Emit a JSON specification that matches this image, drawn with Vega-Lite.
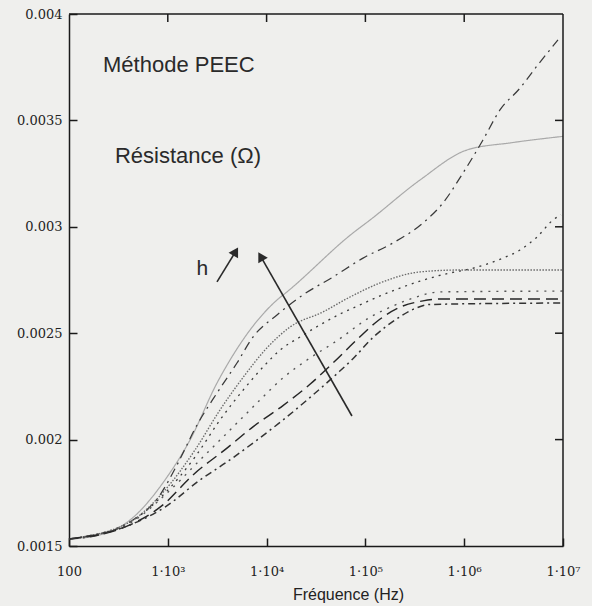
{
  "$schema": "https://vega.github.io/schema/vega-lite/v6.json",
  "width": 494,
  "height": 532,
  "autosize": "none",
  "padding": {"left": 69, "top": 14, "right": 29, "bottom": 60},
  "background": "#efefed",
  "config": {
    "view": {"stroke": null},
    "axis": {"grid": false, "domainColor": "#1a1a1a", "domainWidth": 1.5, "tickColor": "#1a1a1a", "tickWidth": 1.5, "labelColor": "#222", "titleColor": "#222"}
  },
  "datasets": {
    "curves": [
      {"f": 100, "r": 0.001533, "s": "A"}, {"f": 206, "r": 0.001552, "s": "A"}, {"f": 414, "r": 0.001622, "s": "A"}, {"f": 982, "r": 0.001824, "s": "A"}, {"f": 1679, "r": 0.001998, "s": "A"}, {"f": 3148, "r": 0.002266, "s": "A"}, {"f": 4266, "r": 0.002374, "s": "A"}, {"f": 6792, "r": 0.002515, "s": "A"}, {"f": 12735, "r": 0.002656, "s": "A"}, {"f": 16069, "r": 0.002694, "s": "A"}, {"f": 74817, "r": 0.002971, "s": "A"}, {"f": 111429, "r": 0.003032, "s": "A"}, {"f": 357273, "r": 0.00322, "s": "A"}, {"f": 1066596, "r": 0.003361, "s": "A"}, {"f": 3000000, "r": 0.003395, "s": "A"}, {"f": 10000000, "r": 0.003425, "s": "A"},

      {"f": 100, "r": 0.001533, "s": "B"}, {"f": 206, "r": 0.001552, "s": "B"}, {"f": 414, "r": 0.001613, "s": "B"}, {"f": 834, "r": 0.00174, "s": "B"}, {"f": 1239, "r": 0.001881, "s": "B"}, {"f": 1977, "r": 0.002069, "s": "B"}, {"f": 3148, "r": 0.002219, "s": "B"}, {"f": 5012, "r": 0.00236, "s": "B"}, {"f": 7278, "r": 0.002482, "s": "B"}, {"f": 12735, "r": 0.002586, "s": "B"}, {"f": 23335, "r": 0.00268, "s": "B"}, {"f": 46989, "r": 0.002764, "s": "B"}, {"f": 94624, "r": 0.002853, "s": "B"}, {"f": 190108, "r": 0.002924, "s": "B"}, {"f": 382825, "r": 0.003018, "s": "B"}, {"f": 609537, "r": 0.003112, "s": "B"}, {"f": 972747, "r": 0.003253, "s": "B"}, {"f": 1548817, "r": 0.003408, "s": "B"}, {"f": 2301442, "r": 0.003549, "s": "B"}, {"f": 3672823, "r": 0.003652, "s": "B"}, {"f": 5457578, "r": 0.003756, "s": "B"}, {"f": 8892000, "r": 0.003878, "s": "B"},

      {"f": 100, "r": 0.001533, "s": "C"}, {"f": 414, "r": 0.001613, "s": "C"}, {"f": 938, "r": 0.001749, "s": "C"}, {"f": 1884, "r": 0.001918, "s": "C"}, {"f": 3373, "r": 0.002092, "s": "C"}, {"f": 6039, "r": 0.002243, "s": "C"}, {"f": 9638, "r": 0.002351, "s": "C"}, {"f": 13677, "r": 0.002421, "s": "C"}, {"f": 21777, "r": 0.002482, "s": "C"}, {"f": 34674, "r": 0.002539, "s": "C"}, {"f": 55335, "r": 0.00259, "s": "C"}, {"f": 88105, "r": 0.002633, "s": "C"}, {"f": 140605, "r": 0.002675, "s": "C"}, {"f": 223872, "r": 0.002712, "s": "C"}, {"f": 357273, "r": 0.002745, "s": "C"}, {"f": 717794, "r": 0.002783, "s": "C"}, {"f": 1145513, "r": 0.002802, "s": "C"}, {"f": 1702159, "r": 0.002825, "s": "C"}, {"f": 2471710, "r": 0.002853, "s": "C"}, {"f": 3672823, "r": 0.002891, "s": "C"}, {"f": 5457578, "r": 0.002952, "s": "C"}, {"f": 7925000, "r": 0.003032, "s": "C"}, {"f": 9550000, "r": 0.003056, "s": "C"},

      {"f": 100, "r": 0.001533, "s": "D"}, {"f": 414, "r": 0.001613, "s": "D"}, {"f": 938, "r": 0.001763, "s": "D"}, {"f": 1884, "r": 0.001951, "s": "D"}, {"f": 3373, "r": 0.002139, "s": "D"}, {"f": 6039, "r": 0.002304, "s": "D"}, {"f": 9638, "r": 0.002421, "s": "D"}, {"f": 17258, "r": 0.002529, "s": "D"}, {"f": 37239, "r": 0.0026, "s": "D"}, {"f": 69823, "r": 0.00267, "s": "D"}, {"f": 140605, "r": 0.002736, "s": "D"}, {"f": 357273, "r": 0.002788, "s": "D"}, {"f": 905733, "r": 0.002797, "s": "D"}, {"f": 10000000, "r": 0.002797, "s": "D"},

      {"f": 100, "r": 0.001533, "s": "E"}, {"f": 414, "r": 0.001608, "s": "E"}, {"f": 938, "r": 0.00174, "s": "E"}, {"f": 2118, "r": 0.001904, "s": "E"}, {"f": 4266, "r": 0.002045, "s": "E"}, {"f": 8570, "r": 0.002186, "s": "E"}, {"f": 14655, "r": 0.00229, "s": "E"}, {"f": 25645, "r": 0.002374, "s": "E"}, {"f": 51642, "r": 0.002465, "s": "E"}, {"f": 111429, "r": 0.002575, "s": "E"}, {"f": 190108, "r": 0.002628, "s": "E"}, {"f": 303389, "r": 0.002665, "s": "E"}, {"f": 568853, "r": 0.002694, "s": "E"}, {"f": 10000000, "r": 0.002698, "s": "E"},

      {"f": 100, "r": 0.001533, "s": "F"}, {"f": 414, "r": 0.001599, "s": "F"}, {"f": 893, "r": 0.001693, "s": "F"}, {"f": 1799, "r": 0.001834, "s": "F"}, {"f": 3972, "r": 0.00196, "s": "F"}, {"f": 7278, "r": 0.00206, "s": "F"}, {"f": 14655, "r": 0.00216, "s": "F"}, {"f": 27479, "r": 0.00226, "s": "F"}, {"f": 46989, "r": 0.00236, "s": "F"}, {"f": 82224, "r": 0.00247, "s": "F"}, {"f": 130918, "r": 0.002555, "s": "F"}, {"f": 223872, "r": 0.002622, "s": "F"}, {"f": 382825, "r": 0.002652, "s": "F"}, {"f": 609537, "r": 0.002661, "s": "F"}, {"f": 10000000, "r": 0.002661, "s": "F"},

      {"f": 100, "r": 0.001533, "s": "G"}, {"f": 414, "r": 0.001599, "s": "G"}, {"f": 938, "r": 0.001683, "s": "G"}, {"f": 2118, "r": 0.00181, "s": "G"}, {"f": 3972, "r": 0.001895, "s": "G"}, {"f": 7998, "r": 0.001998, "s": "G"}, {"f": 14655, "r": 0.002092, "s": "G"}, {"f": 25645, "r": 0.002186, "s": "G"}, {"f": 51642, "r": 0.00231, "s": "G"}, {"f": 74817, "r": 0.00238, "s": "G"}, {"f": 119399, "r": 0.00248, "s": "G"}, {"f": 208930, "r": 0.002568, "s": "G"}, {"f": 303389, "r": 0.002612, "s": "G"}, {"f": 450817, "r": 0.002635, "s": "G"}, {"f": 10000000, "r": 0.002642, "s": "G"}
    ],
    "arrows": [
      {"f": 3148, "r": 0.002741, "f2": 4864, "r2": 0.002884, "a": 30},
      {"f": 73100, "r": 0.002111, "f2": 8710, "r2": 0.002861, "a": -30}
    ],
    "labels": [
      {"f": 221, "r": 0.003727, "t": "Méthode PEEC", "z": 22},
      {"f": 292, "r": 0.0033, "t": "Résistance (Ω)", "z": 22},
      {"f": 1950, "r": 0.002774, "t": "h", "z": 21}
    ],
    "frame": [
      {"f": 100, "r": 0.004, "f2": 10000000, "r2": 0.004},
      {"f": 10000000, "r": 0.0015, "f2": 10000000, "r2": 0.004}
    ],
    "topticks": [{"f": 1000, "r": 0.004}, {"f": 10000, "r": 0.004}, {"f": 100000, "r": 0.004}, {"f": 1000000, "r": 0.004}],
    "rightticks": [{"f": 10000000, "r": 0.002}, {"f": 10000000, "r": 0.0025}, {"f": 10000000, "r": 0.003}, {"f": 10000000, "r": 0.0035}]
  },
  "layer": [
    {
      "data": {"name": "curves"},
      "mark": {"type": "line", "interpolate": "monotone"},
      "encoding": {
        "x": {
          "field": "f", "type": "quantitative",
          "scale": {"type": "log", "domain": [100, 10000000], "nice": false},
          "axis": {
            "orient": "bottom",
            "values": [100, 1000, 10000, 100000, 1000000, 10000000],
            "labelExpr": "datum.value < 500 ? '100' : datum.value < 5000 ? '1·10³' : datum.value < 50000 ? '1·10⁴' : datum.value < 500000 ? '1·10⁵' : datum.value < 5000000 ? '1·10⁶' : '1·10⁷'",
            "labelFont": "DejaVu Serif", "labelFontSize": 13, "labelPadding": 27, "tickSize": -8,
            "labelFlush": false, "labelOverlap": false,
            "title": "Fréquence (Hz)", "titleFont": "Liberation Sans", "titleFontSize": 16, "titleFontWeight": "normal",
            "titleX": 279, "titleY": 48, "titleBaseline": "middle", "titleAnchor": null
          }
        },
        "y": {
          "field": "r", "type": "quantitative",
          "scale": {"domain": [0.0015, 0.004], "nice": false, "zero": false},
          "axis": {
            "orient": "left",
            "values": [0.0015, 0.002, 0.0025, 0.003, 0.0035, 0.004],
            "format": "~g",
            "labelFont": "DejaVu Serif", "labelFontSize": 13, "labelPadding": 15, "tickSize": -8,
            "labelFlush": false, "labelOverlap": false, "title": null
          }
        },
        "color": {
          "field": "s", "type": "nominal", "legend": null,
          "scale": {"domain": ["A", "B", "C", "D", "E", "F", "G"], "range": ["#a9a9a9", "#3a3a3a", "#3a3a3a", "#6a6a6a", "#555555", "#262626", "#333333"]}
        },
        "strokeDash": {
          "field": "s", "type": "nominal", "legend": null,
          "scale": {"domain": ["A", "B", "C", "D", "E", "F", "G"], "range": [[1, 0], [9, 5, 2, 5], [2, 5], [1.5, 1.5], [2, 6], [12, 6], [7, 4, 2, 4]]}
        },
        "strokeWidth": {
          "field": "s", "type": "nominal", "legend": null,
          "scale": {"domain": ["A", "B", "C", "D", "E", "F", "G"], "range": [1.2, 1.5, 2.2, 1, 1.8, 1.6, 1.4]}
        }
      }
    },
    {
      "data": {"name": "frame"},
      "mark": {"type": "rule", "color": "#1a1a1a", "strokeWidth": 1.5},
      "encoding": {
        "x": {"field": "f", "type": "quantitative"},
        "y": {"field": "r", "type": "quantitative"},
        "x2": {"field": "f2"},
        "y2": {"field": "r2"}
      }
    },
    {
      "data": {"name": "topticks"},
      "mark": {"type": "tick", "orient": "vertical", "size": 16, "thickness": 1.5, "color": "#1a1a1a", "opacity": 1, "clip": true},
      "encoding": {
        "x": {"field": "f", "type": "quantitative"},
        "y": {"field": "r", "type": "quantitative"}
      }
    },
    {
      "data": {"name": "rightticks"},
      "mark": {"type": "tick", "orient": "horizontal", "size": 16, "thickness": 1.5, "color": "#1a1a1a", "opacity": 1, "clip": true},
      "encoding": {
        "x": {"field": "f", "type": "quantitative"},
        "y": {"field": "r", "type": "quantitative"}
      }
    },
    {
      "data": {"name": "arrows"},
      "mark": {"type": "rule", "color": "#2a2a2a", "strokeWidth": 1.6},
      "encoding": {
        "x": {"field": "f", "type": "quantitative"},
        "y": {"field": "r", "type": "quantitative"},
        "x2": {"field": "f2"},
        "y2": {"field": "r2"}
      }
    },
    {
      "data": {"name": "arrows"},
      "mark": {"type": "point", "shape": "triangle-up", "filled": true, "color": "#2a2a2a", "size": 120, "opacity": 1},
      "encoding": {
        "x": {"field": "f2", "type": "quantitative"},
        "y": {"field": "r2", "type": "quantitative"},
        "angle": {"field": "a", "type": "quantitative", "scale": null}
      }
    },
    {
      "data": {"name": "labels"},
      "mark": {"type": "text", "align": "left", "baseline": "alphabetic", "font": "Liberation Sans", "color": "#2a2a2a"},
      "encoding": {
        "x": {"field": "f", "type": "quantitative"},
        "y": {"field": "r", "type": "quantitative"},
        "text": {"field": "t"},
        "size": {"field": "z", "type": "quantitative", "scale": null}
      }
    }
  ]
}
